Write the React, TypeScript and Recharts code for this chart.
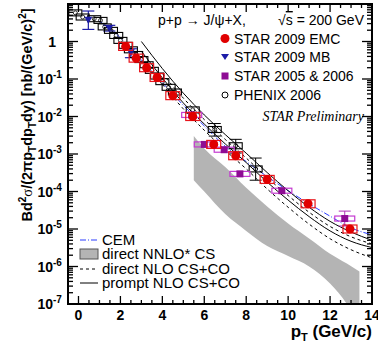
import { ComposedChart, Line, Area, Scatter, XAxis, YAxis, ErrorBar } from "recharts";

// ---- data (pT in GeV/c, B d2sigma/(2pi pT dpT dy) in nb/(GeV/c)^2)

// STAR 2009 EMC
const EMC_PT = [2.25, 2.75, 3.25, 3.75, 4.5, 5.45, 6.45, 7.5, 9.0, 10.95, 12.95];
const EMC_Y = [0.74, 0.36, 0.2, 0.11, 0.036, 0.01, 1.8e-3, 9e-4, 2.1e-4, 4.7e-5, 1.0e-5];

// STAR 2009 MB
const MB_PT = [0.47, 1.47, 2.5];
const MB_Y = [3.8, 2.3, 0.52];
const MB_ERR = [[1.7, 2.7], [0.4, 0.4], [0.15, 0.12]];

// STAR 2005 & 2006
const S56_PT = [5.4, 6.0, 6.95, 7.7, 9.7, 12.7];
const S56_Y = [0.011, 1.8e-3, 1.3e-3, 2.95e-4, 1.05e-4, 1.9e-5];
const S56_ERR = [null, null, null, null, null, [7e-6, 1.1e-5]];

// PHENIX 2006
const PHX_PT = [-0.15, 0.2, 0.75, 1.05, 1.25, 1.55, 1.8, 2.0, 2.25, 2.5, 2.75, 3.0, 3.25, 3.5, 3.75, 4.0, 4.3, 4.6, 5.45, 6.5, 7.5, 8.45];
const PHX_Y = [5.8, 4.5, 4.05, 3.65, 2.45, 1.98, 1.45, 1.07, 0.79, 0.6, 0.45, 0.33, 0.24, 0.17, 0.12, 0.085, 0.06, 0.045, 0.015, 4.5e-3, 1.66e-3, 4e-4];
const PHX_ERR = [null, null, null, null, null, null, null, null, null, null, null, null, null, null, null, null, null, null, null, [1.5e-3, 2e-3], [6e-4, 8e-4], [2e-4, 3.8e-4]];

// CEM
const CEM_PT = [1, 2, 3, 4, 5, 6, 7, 8, 9, 10, 11, 12, 13, 14];
const CEM_Y = [3.5, 1.25, 0.32, 0.08, 0.02, 5.6e-3, 1.6e-3, 6.3e-4, 2.5e-4, 1.05e-4, 4.7e-5, 2.2e-5, 1.07e-5, 7e-6];

// prompt NLO CS+CO (upper / lower)
const NLO_PT = [3, 4, 5, 6, 7, 8, 9, 10, 11, 12, 13, 14];
const PROMPT_HI = [1.0, 0.19, 0.042, 0.011, 3.3e-3, 1.05e-3, 3.2e-4, 1.05e-4, 3.8e-5, 1.6e-5, 8.3e-6, 5.0e-6];
const PROMPT_LO = [0.55, 0.107, 0.023, 6.3e-3, 1.86e-3, 5.9e-4, 1.78e-4, 5.9e-5, 2.14e-5, 8.9e-6, 4.7e-6, 3.2e-6];

// direct NLO CS+CO (upper / lower)
const DIRECT_PT = [4, 5, 6, 7, 8, 9, 10, 11, 12, 13, 14];
const DIRECT_HI = [0.14, 0.031, 8.3e-3, 2.45e-3, 7.8e-4, 2.35e-4, 7.8e-5, 2.8e-5, 1.17e-5, 6.2e-6, 4.0e-6];
const DIRECT_LO = [0.072, 0.016, 4.3e-3, 1.26e-3, 4.0e-4, 1.17e-4, 3.8e-5, 1.35e-5, 5.5e-6, 2.8e-6, 1.7e-6];

// direct NNLO* CS band
const NNLO_PT = [5.5, 6, 7, 8, 9, 10, 11, 12, 12.8, 13.4];
const NNLO_HI = [3e-3, 1.4e-3, 4.5e-4, 1.26e-4, 4e-5, 1.4e-5, 5.6e-6, 2.2e-6, 1.2e-6, 7.4e-7];
const NNLO_LO = [2e-4, 1e-4, 2.5e-5, 8.9e-6, 3.5e-6, 1.9e-6, 1e-6, 3.5e-7, 1e-7, 2.5e-8];

// axis ticks
const X_MAJOR = [0, 2, 4, 6, 8, 10, 12, 14];
const X_TICKS = Array.from({ length: 30 }, (_, i) => -0.5 + i * 0.5);
const Y_DECADES = [-7, -6, -5, -4, -3, -2, -1, 0];
const Y_TICKS = [...Y_DECADES.flatMap((e) => [1, 2, 3, 4, 5, 6, 7, 8, 9].map((f) => f * Math.pow(10, e))), 10];

const pts = (xs: number[], ys: number[], errs?: (number[] | null)[]) =>
  xs.map((x, i) => ({ x, y: ys[i], err: errs ? errs[i] : null }));
const band = (xs: number[], lo: number[], hi: number[]) => xs.map((x, i) => ({ x, band: [lo[i], hi[i]] }));

const emcData = pts(EMC_PT, EMC_Y);
const mbData = pts(MB_PT, MB_Y, MB_ERR);
const s56Data = pts(S56_PT, S56_Y, S56_ERR);
const phxData = pts(PHX_PT, PHX_Y, PHX_ERR);

const PLOT_LEFT = 68;
const PLOT_RIGHT = 372;
const PLOT_TOP = 4;
const PLOT_BOTTOM = 304;
const FONT = "'Liberation Sans', Arial, sans-serif";

function XTick(props: any) {
  const { x, payload } = props;
  const major = X_MAJOR.includes(payload.value);
  const len = major ? 8 : 4;
  return (
    <g>
      <line x1={x} x2={x} y1={PLOT_BOTTOM} y2={PLOT_BOTTOM - len} stroke="#000" strokeWidth={1.3} />
      <line x1={x} x2={x} y1={PLOT_TOP} y2={PLOT_TOP + len} stroke="#000" strokeWidth={1.3} />
      {major && (
        <text x={x} y={PLOT_BOTTOM + 16} textAnchor="middle" fontSize={14} fontWeight="bold" fontFamily={FONT}>
          {payload.value}
        </text>
      )}
    </g>
  );
}

function YTick(props: any) {
  const { y, payload } = props;
  const e = Math.log10(payload.value);
  const major = Math.abs(e - Math.round(e)) < 1e-6;
  const len = major ? 10 : 5;
  const exp = Math.round(e);
  return (
    <g>
      <line x1={PLOT_LEFT} x2={PLOT_LEFT + len} y1={y} y2={y} stroke="#000" strokeWidth={1.3} />
      <line x1={PLOT_RIGHT} x2={PLOT_RIGHT - len} y1={y} y2={y} stroke="#000" strokeWidth={1.3} />
      {major && exp === 0 && (
        <text x={56} y={y + 5} textAnchor="end" fontSize={14} fontWeight="bold" fontFamily={FONT}>1</text>
      )}
      {major && exp < 0 && (
        <text x={53} y={y + 5} textAnchor="end" fontSize={14} fontWeight="bold" fontFamily={FONT}>
          10
        </text>
      )}
      {major && exp < 0 && (
        <text x={53} y={y - 1} textAnchor="start" fontSize={10} fontWeight="bold" fontFamily={FONT}>
          {exp}
        </text>
      )}
    </g>
  );
}

function BoxMarker(kind: string) {
  return (props: any) => {
    const { cx, cy } = props;
    if (cx == null || cy == null) return <g />;
    if (kind === "emc")
      return (
        <g>
          <rect x={cx - 7} y={cy - 4} width={14} height={8} fill="none" stroke="#e8141b" strokeWidth={1.2} />
          <circle cx={cx} cy={cy} r={4.5} fill="#e00000" />
        </g>
      );
    if (kind === "mb")
      return <path d={`M${cx - 4},${cy - 3} L${cx + 4},${cy - 3} L${cx},${cy + 4} Z`} fill="#1c1ca8" />;
    if (kind === "s56")
      return (
        <g>
          <rect x={cx - 10} y={cy - 2.5} width={20} height={5} fill="none" stroke="#c43ad0" strokeWidth={1.2} />
          <rect x={cx - 3.5} y={cy - 3.5} width={7} height={7} fill="#8e0c94" />
        </g>
      );
    return (
      <g>
        <rect x={cx - 6.5} y={cy - 3} width={13} height={6} fill="none" stroke="#000" strokeWidth={1.1} />
        <circle cx={cx} cy={cy} r={2} fill="none" stroke="#000" strokeWidth={0.8} />
      </g>
    );
  };
}

export default function App() {
  return (
    <div style={{ position: "absolute", left: 0, top: 0, width: 378, height: 342, background: "#fff" }}>
      <ComposedChart width={378} height={342} margin={{ top: PLOT_TOP, right: 378 - PLOT_RIGHT, bottom: 0, left: 0 }}>
        <XAxis
          dataKey="x"
          type="number"
          domain={[-0.5, 14]}
          ticks={X_TICKS}
          interval={0}
          tick={<XTick />}
          tickLine={false}
          axisLine={{ stroke: "#000", strokeWidth: 2 }}
          height={342 - PLOT_BOTTOM}
          allowDataOverflow
        />
        <YAxis
          type="number"
          scale="log"
          domain={[1e-7, 10]}
          ticks={Y_TICKS}
          interval={0}
          tick={<YTick />}
          tickLine={false}
          axisLine={{ stroke: "#000", strokeWidth: 2 }}
          width={PLOT_LEFT}
          allowDataOverflow
        />
        <Area data={band(NNLO_PT, NNLO_LO, NNLO_HI)} dataKey="band" type="monotone" fill="#b4b4b4" fillOpacity={1} stroke="none" isAnimationActive={false} />
        <Line data={pts(CEM_PT, CEM_Y)} dataKey="y" type="monotone" stroke="#2a3cff" strokeWidth={1} strokeDasharray="6 2 1 2" dot={false} isAnimationActive={false} />
        <Line data={pts(NLO_PT, PROMPT_HI)} dataKey="y" type="monotone" stroke="#000" strokeWidth={1} dot={false} isAnimationActive={false} />
        <Line data={pts(NLO_PT, PROMPT_LO)} dataKey="y" type="monotone" stroke="#000" strokeWidth={1} dot={false} isAnimationActive={false} />
        <Line data={pts(DIRECT_PT, DIRECT_HI)} dataKey="y" type="monotone" stroke="#000" strokeWidth={1} strokeDasharray="3 3" dot={false} isAnimationActive={false} />
        <Line data={pts(DIRECT_PT, DIRECT_LO)} dataKey="y" type="monotone" stroke="#000" strokeWidth={1} strokeDasharray="3 3" dot={false} isAnimationActive={false} />
        <Scatter data={phxData} dataKey="y" shape={BoxMarker("phx")} isAnimationActive={false}>
          <ErrorBar dataKey="err" direction="y" width={6} stroke="#000" strokeWidth={1} />
        </Scatter>
        <Scatter data={s56Data} dataKey="y" shape={BoxMarker("s56")} isAnimationActive={false}>
          <ErrorBar dataKey="err" direction="y" width={6} stroke="#b030b8" strokeWidth={1} />
        </Scatter>
        <Scatter data={mbData} dataKey="y" shape={BoxMarker("mb")} isAnimationActive={false}>
          <ErrorBar dataKey="err" direction="y" width={6} stroke="#1c1ca8" strokeWidth={1.2} />
        </Scatter>
        <Scatter data={emcData} dataKey="y" shape={BoxMarker("emc")} isAnimationActive={false} />
      </ComposedChart>

      <svg width={378} height={342} style={{ position: "absolute", left: 0, top: 0, pointerEvents: "none" }} fontFamily={FONT}>
        <rect x={PLOT_LEFT} y={PLOT_TOP} width={PLOT_RIGHT - PLOT_LEFT} height={PLOT_BOTTOM - PLOT_TOP} fill="none" stroke="#000" strokeWidth={2} />

        {/* header + legend */}
        <text x={158} y={25} fontSize={14}>p+p → J/ψ+X,</text>
        <text x={364} y={25} fontSize={14} textAnchor="end">
          √<tspan style={{ textDecoration: "overline" }}>s</tspan> = 200 GeV
        </text>
        <circle cx={225} cy={38.5} r={4.5} fill="#e00000" />
        <text x={234} y={43.5} fontSize={14}>STAR 2009 EMC</text>
        <path d="M221,54 L229,54 L225,60 Z" fill="#1c1ca8" />
        <text x={234} y={62} fontSize={14}>STAR 2009 MB</text>
        <rect x={221.5} y={72.5} width={7} height={7} fill="#8e0c94" />
        <text x={234} y={81} fontSize={14}>STAR 2005 &amp; 2006</text>
        <circle cx={225} cy={95} r={3} fill="none" stroke="#000" strokeWidth={1} />
        <text x={234} y={100} fontSize={14}>PHENIX 2006</text>
        <text x={364} y={121} fontSize={14} fontStyle="italic" textAnchor="end" fontFamily="'Liberation Serif', 'Times New Roman', serif">
          STAR Preliminary
        </text>

        {/* theory legend */}
        <line x1={80} x2={98} y1={240} y2={240} stroke="#2a3cff" strokeWidth={1} strokeDasharray="6 2 1 2" />
        <text x={102} y={245} fontSize={15}>CEM</text>
        <rect x={80} y={249} width={18} height={10} fill="#b4b4b4" stroke="#555" strokeWidth={1} />
        <text x={102} y={259} fontSize={15}>direct NNLO* CS</text>
        <line x1={80} x2={98} y1={269} y2={269} stroke="#000" strokeWidth={1} strokeDasharray="3 3" />
        <text x={102} y={274} fontSize={15}>direct NLO CS+CO</text>
        <line x1={80} x2={98} y1={283} y2={283} stroke="#000" strokeWidth={1} />
        <text x={102} y={288} fontSize={15}>prompt NLO CS+CO</text>

        {/* axis titles */}
        <text x={372} y={337} fontSize={17} fontWeight="bold" textAnchor="end">
          p<tspan fontSize={11} dy={4}>T</tspan>
          <tspan dy={-4}> (GeV/c)</tspan>
        </text>
        <text transform="translate(32,115) rotate(-90)" fontSize={14.5} fontWeight="bold" textAnchor="middle">
          Bd<tspan fontSize={10} dy={-6}>2</tspan>
          <tspan dy={6} fontFamily="'Liberation Serif', serif" fontWeight="normal">σ</tspan>/(2πp
          <tspan fontSize={10} dy={4}>T</tspan>
          <tspan dy={-4}>dp</tspan>
          <tspan fontSize={10} dy={4}>T</tspan>
          <tspan dy={-4}>dy) [nb/(GeV/c)</tspan>
          <tspan fontSize={10} dy={-6}>2</tspan>
          <tspan dy={6}>]</tspan>
        </text>
      </svg>
    </div>
  );
}
